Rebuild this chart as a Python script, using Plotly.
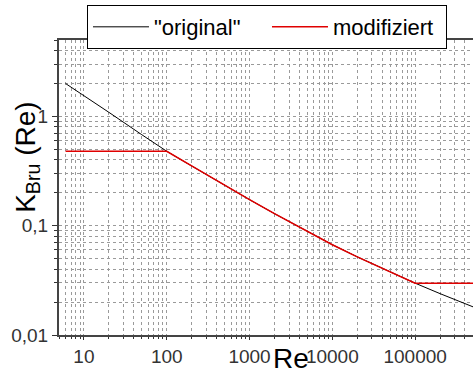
import plotly.graph_objects as go

re_orig = [6, 10, 20, 50, 100, 200, 500, 1000, 2000, 5000, 10000, 20000, 50000, 100000, 200000, 500000]
k_orig = [2.0, 1.55, 1.09, 0.68, 0.48, 0.352, 0.233, 0.173, 0.129, 0.0887, 0.067, 0.0519, 0.0378, 0.0298, 0.0239, 0.0181]

re_mod = [6, 10, 20, 50, 100, 200, 500, 1000, 2000, 5000, 10000, 20000, 50000, 100000, 200000, 500000]
k_mod = [0.48, 0.48, 0.48, 0.48, 0.48, 0.352, 0.233, 0.173, 0.129, 0.0887, 0.067, 0.0519, 0.0378, 0.0298, 0.0298, 0.0298]

x_tickvals = [10, 100, 1000, 10000, 100000]
x_ticktext = ["10", "100", "1000", "10000", "100000"]
y_tickvals = [0.01, 0.1, 1]
y_ticktext = ["0,01", "0,1", "1"]

fig = go.Figure()
fig.add_trace(go.Scatter(x=re_orig, y=k_orig, mode="lines", name='"original"',
                         line=dict(color="black", width=1)))
fig.add_trace(go.Scatter(x=re_mod, y=k_mod, mode="lines", name="modifiziert",
                         line=dict(color="#e00000", width=1.5)))

grid = dict(showgrid=True, gridcolor="#9a9a9a", griddash="dot", gridwidth=1)
font = "Liberation Sans, Arial"
fig.update_xaxes(type="log", range=[0.69897, 5.69897],
                 tickmode="array", tickvals=x_tickvals, ticktext=x_ticktext,
                 ticks="outside", ticklen=3, tickcolor="#333333",
                 showline=True, linecolor="#444444", linewidth=2, mirror=True,
                 minor=dict(tickmode="linear", dtick="D1", ticks="outside", ticklen=2,
                            tickcolor="#333333", **grid),
                 tickfont=dict(family=font, size=19, color="#333333"),
                 zeroline=False, **grid)
fig.update_yaxes(type="log", range=[-2, 0.69897],
                 tickmode="array", tickvals=y_tickvals, ticktext=y_ticktext,
                 ticks="outside", ticklen=5, tickcolor="#333333",
                 showline=True, linecolor="#444444", linewidth=2,
                 minor=dict(tickmode="linear", dtick="D1", ticks="outside", ticklen=3,
                            tickcolor="#333333", **grid),
                 tickfont=dict(family=font, size=19, color="#333333"),
                 zeroline=False, **grid)

fig.add_annotation(text="Re", xref="paper", yref="paper", x=0.56, y=-0.02,
                   xanchor="center", yanchor="top", showarrow=False,
                   font=dict(family=font, size=28, color="black"))
fig.add_annotation(text="K<sub>Bru</sub> (Re)", xref="paper", yref="paper",
                   x=-0.078, y=0.603, xanchor="center", yanchor="middle",
                   textangle=-90, showarrow=False,
                   font=dict(family=font, size=28, color="black"))

fig.update_layout(
    width=473, height=375,
    margin=dict(l=59, r=0, t=40, b=40, autoexpand=False),
    plot_bgcolor="white", paper_bgcolor="white",
    showlegend=True,
    legend=dict(orientation="h", x=0.0676, y=1.1186, xanchor="left", yanchor="top",
                bordercolor="black", borderwidth=1, bgcolor="white",
                font=dict(family=font, size=22, color="black"),
                entrywidth=108, itemwidth=56, tracegroupgap=0),
)

fig.write_html("out.html")
